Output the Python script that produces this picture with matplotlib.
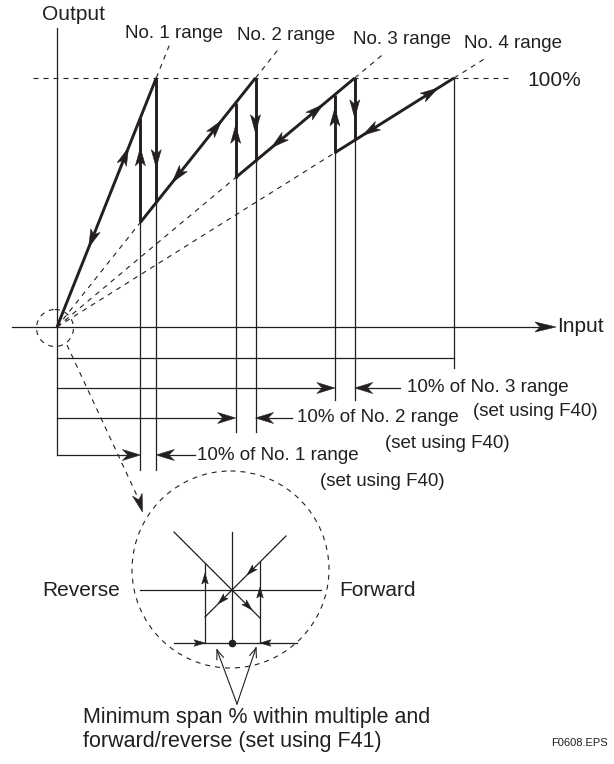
import matplotlib
matplotlib.use("Agg")
import matplotlib.pyplot as plt
import numpy as np
from matplotlib.patches import Polygon, Circle

plt.rcParams['font.family'] = ['Liberation Sans', 'DejaVu Sans']

# ---------------- data ----------------
range_names = ["No. 1 range", "No. 2 range", "No. 3 range", "No. 4 range"]
range_span = [25, 50, 75, 100]          # input span of each range (No.4 = 100)
switch_back = [21, 45, 70]              # input where output switches back to lower range
label_ext = [113, 111, 110, 108]        # output % where dashed range extension ends
fwd_arrow_in = [18, 41.5, 67, 96]       # forward arrows (tip input) on each range line
rev_arrow_in = [8, 29, 54, 77]          # reverse arrows (tip input) on each range line
up_arrow_out = [72, 81, 88]             # up arrows on switch-back verticals (output %)
down_arrow_out = [64, 78, 84]           # down arrows on range-change verticals (output %)
pct_labels = ["10% of No. 1 range", "10% of No. 2 range", "10% of No. 3 range"]
set_label = "(set using F40)"

INK = "#231f20"

fig = plt.figure(figsize=(6.14, 7.64), dpi=100)
ax = fig.add_axes([0, 0, 1, 1])
# chart coordinates: input units (x) and output % (y)
ox, oy, sx, sy = 57.0, 327.0, 3.97, 2.49
ax.set_xlim(-ox / sx, (614 - ox) / sx)
ax.set_ylim((oy - 764) / sy, oy / sy)
ax.axis('off')
# pixel overlay for annotation layout
ax2 = fig.add_axes([0, 0, 1, 1])
ax2.set_xlim(0, 614)
ax2.set_ylim(764, 0)
ax2.axis('off')
ax2.patch.set_alpha(0)


def to_px(x, y):
    return ax2.transData.inverted().transform(ax.transData.transform((x, y)))


def head_px(tip, d, L=18, W=10, conc=0.25, color=INK):
    tip = np.asarray(tip, float)
    d = np.asarray(d, float)
    d = d / np.hypot(*d)
    n = np.array([-d[1], d[0]])
    pts = [tip, tip - L * d + W / 2 * n, tip - L * (1 - conc) * d, tip - L * d - W / 2 * n]
    ax2.add_patch(Polygon(pts, closed=True, fc=color, ec=color, lw=0.4, zorder=6))


def head_data(tip, back, **kw):
    t = to_px(*tip)
    b = to_px(*back)
    head_px(t, t - b, **kw)


thick = dict(color=INK, lw=2.1, solid_capstyle='butt', solid_joinstyle='miter', zorder=4)
thin = dict(color=INK, lw=0.9, zorder=3)
dash = dict(color=INK, lw=0.8, dashes=(4.5, 4.5), zorder=2)

# ---------------- axes ----------------
ax.plot([0, 0], [(oy - 28) / sy, 0], **thin)
ax2.plot([ox, ox], [oy, 455], **thin)
ax2.plot([12, 540], [oy, oy], **thin)
head_px((556, oy), (1, 0), L=21, W=10)
ax2.text(557, oy, "Input", fontsize=15, va='center', ha='left', color=INK)
ax2.text(42, 15, "Output", fontsize=15, va='center', ha='left', color=INK)

# 100 % line
ax.plot([-6, 114.3], [100, 100], **dash)
ax2.text(527, 80, "100%", fontsize=15, va='center', ha='left', color=INK)

# ---------------- range lines ----------------
label_pos = [(174, 33), (286, 36), (402, 40), (513, 44)]
for i, R in enumerate(range_span):
    slope = 100.0 / R
    start = 0 if i == 0 else switch_back[i - 1]
    if i > 0:
        ax.plot([0, start], [0, start * slope], **dash)
    ax.plot([start, R], [start * slope, 100], **thick)
    ax.plot([R, label_ext[i] / slope], [100, label_ext[i]], **dash)
    ax2.text(label_pos[i][0], label_pos[i][1], range_names[i], fontsize=13.5,
             ha='center', va='center', color=INK)
    xf = fwd_arrow_in[i]
    head_data((xf, xf * slope), (xf - 1, (xf - 1) * slope))
    xr = rev_arrow_in[i]
    head_data((xr, xr * slope), (xr + 1, (xr + 1) * slope))

# vertical jumps
bottom_px = [470, 432, 400]
for i in range(3):
    R = range_span[i]
    nxt = range_span[i + 1]
    sb = switch_back[i]
    ax.plot([R, R], [100, R * 100.0 / nxt], **thick)
    ax.plot([sb, sb], [sb * 100.0 / nxt, sb * 100.0 / R], **thick)
    for xv, ytop in ((R, R * 100.0 / nxt), (sb, sb * 100.0 / nxt)):
        ax.plot([xv, xv], [ytop, 0], **thin)
        ax2.plot(to_px(xv, 0)[[0, 0]], [oy, bottom_px[i]], **thin)
    head_data((sb, up_arrow_out[i]), (sb, up_arrow_out[i] - 1))
    head_data((R, down_arrow_out[i]), (R, down_arrow_out[i] + 1))

# full span of No. 4
ax.plot([100, 100], [100, 0], **thin)
x100 = to_px(100, 0)[0]
ax2.plot([x100, x100], [oy, 368], **thin)
ax2.plot([ox, x100], [358, 358], **thin)

# ---------------- 10 % brackets ----------------
row_y = [455, 418, 388]
text_x = [197, 297, 407]
tail_end = [195, 292, 400]
set_pos = [(320, 482), (385, 443), (473, 411)]
for i in range(3):
    xa = to_px(switch_back[i], 0)[0]
    xb = to_px(range_span[i], 0)[0]
    y = row_y[i]
    ax2.plot([ox, xa - 10], [y, y], **thin)
    head_px((xa, y), (1, 0), L=18, W=11, conc=0.3)
    ax2.plot([xb + 10, tail_end[i]], [y, y], **thin)
    head_px((xb, y), (-1, 0), L=18, W=11, conc=0.3)
    ax2.text(text_x[i], y, pct_labels[i], fontsize=13.5, ha='left', va='center', color=INK)
    ax2.text(set_pos[i][0], set_pos[i][1], set_label, fontsize=13.5, ha='left', va='center', color=INK)

# ---------------- zoom indicator ----------------
ax2.add_patch(Circle((55, 328), 18.5, fill=False, ec=INK, lw=0.8, ls=(0, (4.5, 4.5)), zorder=2))
ax2.plot([67, 139], [345, 500], **dash)
head_px((142.5, 512), (0.3, 1), L=18, W=10, conc=0.3)

ax2.add_patch(Circle((230.5, 569.5), 98.5, fill=False, ec=INK, lw=0.8, ls=(0, (4.5, 4.5)), zorder=2))

# inner detail
cx, cy = 232, 590
ilw = dict(color=INK, lw=0.9, zorder=3)
ax2.plot([140, 321], [cy, cy], **ilw)
ax2.plot([cx, cx], [532, 643], **ilw)
ax2.plot([cx - 58, cx + 28], [cy - 58, cy + 28], **ilw)
ax2.plot([cx + 54, cx - 27], [cy - 54, cy + 27], **ilw)
ax2.plot([cx - 27, cx - 27], [cy - 27, 643], **ilw)
ax2.plot([cx + 28, cx + 28], [cy - 28, 643], **ilw)
ax2.plot([174, 297], [643, 643], **ilw)
ax2.plot([cx], [643], marker='o', ms=4.5, color=INK, zorder=5)
small = dict(L=11, W=6.5, conc=0.2)
head_px((cx - 27, 573), (0, -1), **small)
head_px((cx + 28, 587), (0, -1), **small)
head_px((cx + 15, cy - 15), (-1, 1), **small)
head_px((cx - 14, cy + 14), (-1, 1), **small)
head_px((cx + 20, cy + 20), (1, 1), **small)
head_px((cx - 27, 643), (1, 0), **small)
head_px((cx + 28, 643), (-1, 0), **small)
ax2.text(120, cy, "Reverse", fontsize=15, ha='right', va='center', color=INK)
ax2.text(339, cy, "Forward", fontsize=15, ha='left', va='center', color=INK)

# pointer lines to the minimum span marks
apex = np.array([237, 704])
for tip in ((217, 650), (256, 648)):
    tip = np.array(tip, float)
    ax2.plot([apex[0], tip[0]], [apex[1], tip[1]], color=INK, lw=0.8)
    d = tip - apex
    d = d / np.hypot(*d)
    n = np.array([-d[1], d[0]])
    for s in (1, -1):
        p = tip - 9 * d + s * 3.5 * n
        ax2.plot([tip[0], p[0]], [tip[1], p[1]], color=INK, lw=0.8)

ax2.text(83, 718, "Minimum span % within multiple and", fontsize=15.5, ha='left', va='center', color=INK)
ax2.text(83, 742, "forward/reverse (set using F41)", fontsize=15.5, ha='left', va='center', color=INK)
ax2.text(608, 743, "F0608.EPS", fontsize=8, ha='right', va='center', color=INK)

fig.savefig("out.png", dpi=100)
